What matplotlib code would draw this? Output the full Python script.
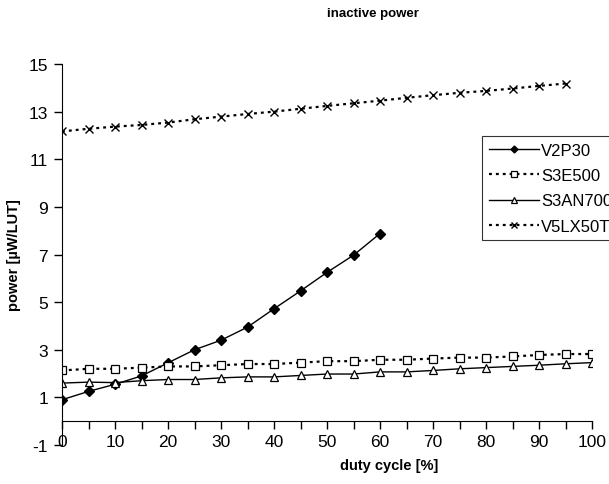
import matplotlib
matplotlib.use("Agg")
import matplotlib.pyplot as plt
import numpy as np

plt.rcParams['font.family'] = ['Liberation Sans', 'DejaVu Sans']
plt.rcParams['axes.unicode_minus'] = False

x_v2p30 = [0, 5, 10, 15, 20, 25, 30, 35, 40, 45, 50, 55, 60]
v2p30 = [0.9, 1.25, 1.55, 1.9, 2.45, 3.0, 3.4, 3.95, 4.72, 5.47, 6.25, 6.97, 7.88]

x_full = [0, 5, 10, 15, 20, 25, 30, 35, 40, 45, 50, 55, 60, 65, 70, 75, 80, 85, 90, 95, 100]
s3e500 = [2.13, 2.2, 2.2, 2.25, 2.3, 2.3, 2.35, 2.4, 2.4, 2.46, 2.52, 2.52, 2.58, 2.58, 2.63,
          2.67, 2.67, 2.72, 2.78, 2.82, 2.82]
s3an700 = [1.6, 1.64, 1.62, 1.7, 1.75, 1.75, 1.82, 1.86, 1.86, 1.92, 1.98, 1.98, 2.07, 2.07,
           2.13, 2.2, 2.25, 2.3, 2.35, 2.41, 2.46]

x_v5 = [0, 5, 10, 15, 20, 25, 30, 35, 40, 45, 50, 55, 60, 65, 70, 75, 80, 85, 90, 95]
v5lx50t = [12.17, 12.28, 12.37, 12.44, 12.54, 12.68, 12.79, 12.9, 13.0, 13.12, 13.24, 13.35,
           13.46, 13.58, 13.69, 13.79, 13.87, 13.97, 14.08, 14.18]

y_ticks = [-1, 1, 3, 5, 7, 9, 11, 13, 15]
x_ticks = [0, 10, 20, 30, 40, 50, 60, 70, 80, 90, 100]

fig = plt.figure(figsize=(6.09, 4.85), dpi=100)
ax = fig.add_axes([62/609, (485-446)/485, (592-62)/609, (446-65)/485])

dot = (0, (1.3, 1.8))
ax.plot(x_v2p30, v2p30, color='black', lw=1.0, marker='D', ms=5, mfc='black', mec='black', label='V2P30')
ax.plot(x_full, s3e500, color='black', lw=1.6, ls=dot, marker='s', ms=5.2, mfc='white', mec='black', mew=0.9, label='S3E500')
ax.plot(x_full, s3an700, color='black', lw=1.0, marker='^', ms=6.2, mfc='white', mec='black', mew=0.9, label='S3AN700')
ax.plot(x_v5, v5lx50t, color='black', lw=1.6, ls=dot, marker='x', ms=6, mec='black', mew=1.0, label='V5LX50T')

ax.set_xlim(0, 100)
ax.set_ylim(-1, 15)
ax.set_yticks(y_ticks)
ax.set_xticks(x_ticks)
ax.set_xticks(np.arange(0, 101, 5), minor=True)
ax.spines['top'].set_visible(False)
ax.spines['right'].set_visible(False)
ax.spines['bottom'].set_position(('data', 0))
ax.tick_params(axis='both', which='both', direction='out', length=6, width=1, labelsize=12.5, colors='black')
ax.tick_params(axis='x', which='both', pad=3)
ax.tick_params(axis='y', pad=4)

ax.set_xlabel('duty cycle [%]', fontsize=10.5, fontweight='bold')
ax.set_ylabel('power [µW/LUT]', fontsize=10.5, fontweight='bold')
ax.xaxis.set_label_coords(327/530, -0.035)
ax.yaxis.set_label_coords(-0.077, 0.5)
fig.suptitle('inactive power', x=373/609, y=1-14/485, va='center', fontsize=9.5, fontweight='bold')

leg = ax.legend(loc='upper left', bbox_to_anchor=(482/609, 1-137/485), bbox_transform=fig.transFigure,
                frameon=True, fancybox=False, edgecolor='black', fontsize=12, handlelength=3.0,
                borderaxespad=0, borderpad=0.4, labelspacing=0.62, handletextpad=0.15, markerscale=0.7)
leg.get_frame().set_linewidth(0.8)

fig.savefig('out.png', dpi=100)
